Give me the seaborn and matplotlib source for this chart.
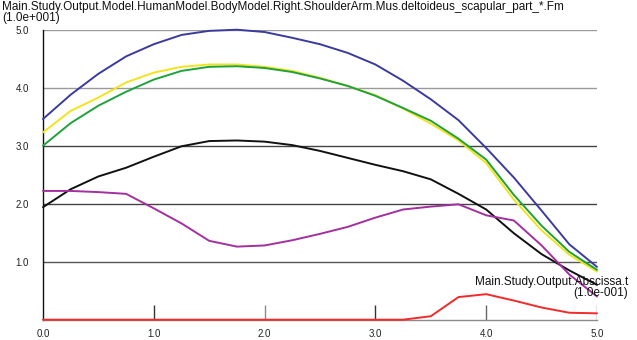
import matplotlib
matplotlib.use("Agg")
import matplotlib.pyplot as plt
import seaborn as sns
import pandas as pd

# ---- data ----
x_vals = [0.0, 0.25, 0.5, 0.75, 1.0, 1.25, 1.5, 1.75, 2.0, 2.25, 2.5,
          2.75, 3.0, 3.25, 3.5, 3.75, 4.0, 4.25, 4.5, 4.75, 5.0]
blue = [3.46, 3.88, 4.24, 4.54, 4.75, 4.91, 4.98, 5.00, 4.96, 4.86, 4.75,
        4.60, 4.40, 4.12, 3.80, 3.44, 2.96, 2.45, 1.88, 1.30, 0.91]
yellow = [3.23, 3.60, 3.83, 4.09, 4.26, 4.36, 4.40, 4.40, 4.36, 4.29, 4.17,
          4.03, 3.87, 3.64, 3.38, 3.09, 2.70, 2.07, 1.54, 1.12, 0.83]
green = [3.00, 3.39, 3.69, 3.93, 4.14, 4.29, 4.36, 4.37, 4.34, 4.27, 4.16,
         4.03, 3.86, 3.65, 3.43, 3.12, 2.76, 2.15, 1.62, 1.17, 0.86]
black = [1.94, 2.25, 2.47, 2.62, 2.81, 2.99, 3.08, 3.09, 3.07, 3.01, 2.91,
         2.79, 2.67, 2.56, 2.42, 2.17, 1.90, 1.49, 1.13, 0.85, 0.60]
magenta = [2.22, 2.22, 2.20, 2.17, 1.92, 1.66, 1.36, 1.26, 1.28, 1.37, 1.48,
           1.60, 1.76, 1.90, 1.95, 1.99, 1.80, 1.71, 1.28, 0.78, 0.40]
red = [0.0, 0.0, 0.0, 0.0, 0.0, 0.0, 0.0, 0.0, 0.0, 0.0, 0.0,
       0.0, 0.0, 0.0, 0.06, 0.39, 0.44, 0.33, 0.21, 0.12, 0.11]

series_names = ["blue", "yellow", "green", "black", "magenta", "red"]
series_values = [blue, yellow, green, black, magenta, red]
series_colors = ["#3b3b9e", "#f2e41c", "#1fa23c", "#111111", "#a2309e", "#f22a2a"]

x_ticks = [0.0, 1.0, 2.0, 3.0, 4.0, 5.0]
x_tick_labels = ["0.0", "1.0", "2.0", "3.0", "4.0", "5.0"]
y_ticks = [1.0, 2.0, 3.0, 4.0, 5.0]
y_tick_labels = ["1.0", "2.0", "3.0", "4.0", "5.0"]
grid_colors = ["#555555", "#444444", "#444444", "#9a9a9a", "#9a9a9a"]
tick_colors = ["#333333", "#8a8a8a", "#333333", "#666666", "#666666"]

title_text = "Main.Study.Output.Model.HumanModel.BodyModel.Right.ShoulderArm.Mus.deltoideus_scapular_part_*.Fm\n(1.0e+001)"
xlabel_text = "Main.Study.Output.Abscissa.t\n(1.0e-001)"

# ---- build long-form table ----
rows = []
for name, vals in zip(series_names, series_values):
    for xv, yv in zip(x_vals, vals):
        rows.append({"t": xv, "value": yv, "series": name})
df = pd.DataFrame(rows)

sns.set_theme(style="white")
plt.rcParams["font.family"] = ["Liberation Sans", "DejaVu Sans"]

fig = plt.figure(figsize=(6.37, 3.40), dpi=100)
ax = fig.add_axes([43 / 637, 20.3 / 340, 554 / 637, 290 / 340])

ax.set_xlim(0, 5)
ax.set_ylim(0, 5)

# gridlines
for yv, c in zip(y_ticks, grid_colors):
    ax.hlines(yv, 0, 5, colors=c, linewidth=1.0, zorder=1)

# bottom vertical ticks
ax.vlines(x_ticks[1:], 0, 0.26, colors=tick_colors, linewidth=1.0, zorder=1)

sns.lineplot(data=df, x="t", y="value", hue="series", palette=dict(zip(series_names, series_colors)),
             hue_order=series_names, estimator=None, sort=False, legend=False,
             linewidth=1.4, ax=ax, zorder=3, clip_on=False)

for sp in ["top", "right"]:
    ax.spines[sp].set_visible(False)
ax.spines["left"].set_color("#111111")
ax.spines["left"].set_linewidth(1.0)
ax.spines["bottom"].set_color("#8a8a8a")
ax.spines["bottom"].set_linewidth(1.0)

ax.set_xticks(x_ticks)
ax.set_xticklabels(x_tick_labels)
ax.set_yticks(y_ticks)
ax.set_yticklabels(y_tick_labels)
ax.tick_params(axis="x", length=0, pad=7, labelsize=7, colors="#222222")
ax.tick_params(axis="y", length=2, pad=8, labelsize=7, colors="#222222", width=0.8)
ax.set_xlabel("")
ax.set_ylabel("")

fig.text(2 / 637, 1 - 1 / 340, title_text, ha="left", va="top", fontsize=8.5,
         linespacing=0.92, color="#111111")
fig.text(628 / 637, 1 - 276 / 340, xlabel_text, ha="right", va="top", fontsize=8.5,
         linespacing=0.92, multialignment="right", color="#111111")

fig.savefig("out.png", dpi=100)
